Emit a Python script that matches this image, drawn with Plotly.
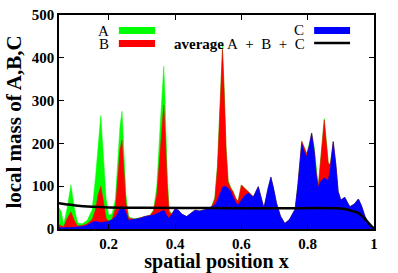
import plotly.graph_objects as go

# spatial positions
x_pos = [0.050, 0.057, 0.064, 0.075, 0.086, 0.096, 0.106, 0.120, 0.135, 0.150,
         0.160, 0.168, 0.176, 0.184, 0.192, 0.200, 0.210, 0.220, 0.228, 0.234,
         0.240, 0.246, 0.252, 0.260, 0.270, 0.280, 0.295, 0.310, 0.325, 0.335,
         0.345, 0.355, 0.362, 0.366, 0.370, 0.376, 0.382, 0.390, 0.400, 0.410,
         0.420, 0.435, 0.450, 0.460, 0.475, 0.495, 0.510, 0.520, 0.528, 0.536,
         0.543, 0.548, 0.554, 0.560, 0.568, 0.575, 0.583, 0.590, 0.600, 0.610,
         0.620, 0.628, 0.636, 0.651, 0.668, 0.680, 0.689, 0.697, 0.706, 0.718,
         0.731, 0.745, 0.762, 0.770, 0.782, 0.790, 0.797, 0.805, 0.812, 0.820,
         0.826, 0.832, 0.840, 0.850, 0.857, 0.862, 0.868, 0.877, 0.885, 0.892,
         0.900, 0.912, 0.920, 0.927, 0.940, 0.953, 0.962, 0.973, 0.985, 1.000]

# local mass A (green, drawn as envelope)
mass_A = [50, 40, 10, 50, 103, 50, 14, 12, 20, 45,
          120, 200, 265, 170, 70, 32, 35, 70, 160, 240,
          275, 180, 80, 30, 25, 24, 27, 30, 32, 45,
          100, 240, 350, 380, 300, 140, 45, 35, 47, 44,
          35, 29, 38, 44, 42, 46, 52, 75, 150, 300,
          428, 330, 190, 115, 97, 88, 72, 64, 103, 95,
          89, 82, 75, 99, 49, 95, 121, 95, 60, 30,
          13, 22, 46, 100, 205, 190, 176, 200, 224, 190,
          135, 100, 170, 258, 200, 155, 150, 204, 150, 87,
          68, 74, 62, 52, 58, 70, 55, 29, 12, 0]

# local mass B (red)
mass_B = [10, 8, 5, 25, 40, 20, 7, 8, 12, 22,
          45, 80, 100, 65, 25, 18, 22, 47, 120, 185,
          208, 140, 60, 25, 24, 23, 26, 30, 32, 42,
          80, 180, 270, 290, 230, 110, 40, 35, 47, 44,
          35, 29, 38, 44, 42, 46, 52, 70, 145, 295,
          420, 325, 185, 110, 95, 87, 72, 64, 103, 95,
          89, 82, 75, 99, 49, 95, 121, 95, 60, 30,
          13, 22, 46, 100, 205, 190, 176, 195, 224, 180,
          130, 100, 165, 255, 195, 154, 150, 204, 150, 87,
          68, 74, 62, 52, 58, 70, 55, 29, 12, 0]

# local mass C (blue)
mass_C = [3, 3, 3, 3, 3, 4, 5, 6, 9, 16,
          18, 16, 15, 16, 17, 18, 22, 28, 38, 50,
          54, 48, 38, 20, 22, 23, 25, 29, 31, 33,
          36, 40, 44, 44, 40, 30, 26, 34, 47, 44,
          35, 29, 38, 44, 42, 46, 52, 56, 68, 85,
          97, 100, 99, 95, 88, 75, 62, 56, 68, 78,
          84, 80, 75, 99, 49, 95, 121, 95, 60, 30,
          13, 22, 46, 100, 200, 180, 169, 195, 224, 180,
          125, 98, 112, 119, 116, 114, 140, 204, 150, 87,
          68, 74, 62, 52, 58, 70, 55, 29, 12, 0]

# average A + B + C
avg_x = [0.05, 0.07, 0.10, 0.15, 0.20, 0.30, 0.50, 0.70, 0.90, 0.915, 0.93, 0.953, 0.973, 0.993, 1.0]
avg_y = [60, 58, 55, 52, 50.5, 49.5, 49, 48.5, 48, 46, 43, 37, 23, 6, 2]

x_ticks = [0.2, 0.4, 0.6, 0.8, 1.0]
x_tick_text = ["0.2", "0.4", "0.6", "0.8", "1"]
y_ticks = [0, 100, 200, 300, 400, 500]

SERIF = "Liberation Serif"
SP = "\u2002"

fig = go.Figure()
fig.add_trace(go.Scatter(x=x_pos, y=mass_A, mode="lines", fill="tozeroy",
                         line=dict(color="#00ff00", width=0.5), fillcolor="#00ff00", name="A"))
fig.add_trace(go.Scatter(x=x_pos, y=mass_B, mode="lines", fill="tozeroy",
                         line=dict(color="#ff0000", width=0.5), fillcolor="#ff0000", name="B"))
fig.add_trace(go.Scatter(x=x_pos, y=mass_C, mode="lines", fill="tozeroy",
                         line=dict(color="#0000ff", width=0.5), fillcolor="#0000ff", name="C"))
fig.add_trace(go.Scatter(x=avg_x, y=avg_y, mode="lines", line=dict(color="black", width=2.5, shape="spline"),
                         name="average A + B + C"))

# manual gnuplot-style key
key_font = dict(family=SERIF, size=15, color="black")
ann = [
    dict(x=0.162, y=0.925, text="A"),
    dict(x=0.162, y=0.866, text="B"),
    dict(x=0.781, y=0.932, text="C"),
    dict(x=0.783, y=0.866, text="<b>average</b> A" + SP + "+" + SP + "B" + SP + "+" + SP + "C"),
]
for a in ann:
    fig.add_annotation(xref="paper", yref="paper", x=a["x"], y=a["y"], text=a["text"],
                       showarrow=False, xanchor="right", yanchor="middle", font=key_font,
                       borderpad=0)
fig.add_shape(type="rect", xref="paper", yref="paper", x0=0.190, x1=0.305, y0=0.911, y1=0.944,
              fillcolor="#00ff00", line=dict(width=0))
fig.add_shape(type="rect", xref="paper", yref="paper", x0=0.190, x1=0.305, y0=0.850, y1=0.883,
              fillcolor="#ff0000", line=dict(width=0))
fig.add_shape(type="rect", xref="paper", yref="paper", x0=0.810, x1=0.924, y0=0.911, y1=0.944,
              fillcolor="#0000ff", line=dict(width=0))
fig.add_shape(type="line", xref="paper", yref="paper", x0=0.810, x1=0.924, y0=0.869, y1=0.869,
              line=dict(color="black", width=2.5))

axis_common = dict(showline=True, linecolor="black", linewidth=1.5, mirror="allticks",
                   ticks="inside", ticklen=5, tickcolor="black", tickwidth=1,
                   showgrid=False, zeroline=False, automargin=False,
                   tickfont=dict(family=SERIF, size=15, color="black"))

fig.update_xaxes(range=[0.05, 1.0], tickvals=x_ticks,
                 ticktext=["<b>%s</b>" % t for t in x_tick_text],
                 title=dict(text="<b>spatial position x</b>", font=dict(family=SERIF, size=20, color="black"),
                            standoff=4),
                 **axis_common)
fig.update_yaxes(range=[0, 500], tickvals=y_ticks,
                 ticktext=["<b>%d</b>" % v for v in y_ticks],
                 title=dict(text="<b>local mass of A,B,C</b>", font=dict(family=SERIF, size=21, color="black"),
                            standoff=4),
                 **axis_common)

fig.update_layout(width=398, height=273, margin=dict(l=59, r=24, t=15, b=44),
                  paper_bgcolor="white", plot_bgcolor="white", showlegend=False,
                  font=dict(family=SERIF))

fig.write_html("out.html", config={"displayModeBar": False},
               post_script="document.body.style.margin='0';document.body.style.padding='0';")
